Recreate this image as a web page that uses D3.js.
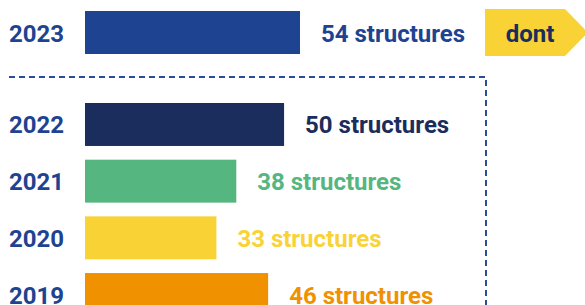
<!DOCTYPE html>
<html>
<head>
<meta charset="utf-8">
<style>
  body { margin: 0; background: #fff; }
  svg text { font-family: Roboto, sans-serif; font-weight: 700; }
</style>
</head>
<body>
<div id="chart"></div>
<script src="https://cdn.jsdelivr.net/npm/d3@7"></script>
<script>
// data
var years = ["2023", "2022", "2021", "2020", "2019"];
var counts = [54, 50, 38, 33, 46];
var colors = ["#1e4391", "#1a2d5c", "#55b67f", "#f9d335", "#f09100"];
var unit = "structures";
var tagText = "dont";

var width = 585, height = 305;

var svg = d3.select("#chart").append("svg")
  .attr("width", width).attr("height", height);

// x scale: zero at left of bars
var x = d3.scaleLinear().domain([0, 54]).range([85, 300]);

// first year sits alone on top, the rest below the dashed frame
var yTop = d3.scaleBand().domain([years[0]]).range([11, 54]);
var yRest = d3.scaleBand().domain(years.slice(1)).range([103, 316]).paddingInner(0.242).paddingOuter(0);

function yPos(yr) { return yr === years[0] ? yTop(yr) : yRest(yr); }
function bw(yr) { return yr === years[0] ? yTop.bandwidth() : yRest.bandwidth(); }

var rows = years.map(function (y, i) { return {year: y, n: counts[i], color: colors[i]}; });

// dashed frame
svg.append("path")
  .attr("d", "M9,77H486V305")
  .attr("fill", "none")
  .attr("stroke", "#2a4d9b")
  .attr("stroke-width", 2)
  .attr("stroke-dasharray", "6,4");

var g = svg.selectAll("g.row").data(rows).enter().append("g").attr("class", "row");

g.append("rect")
  .attr("x", x(0))
  .attr("y", function (d) { return yPos(d.year); })
  .attr("width", function (d) { return x(d.n) - x(0); })
  .attr("height", function (d) { return bw(d.year); })
  .attr("fill", function (d) { return d.color; });

g.append("text")
  .attr("x", 9)
  .attr("y", function (d) { return yPos(d.year) + bw(d.year) / 2 + 9; })
  .attr("font-size", 24)
  .attr("fill", "#1e4391")
  .text(function (d) { return d.year; });

g.append("text")
  .attr("x", function (d) { return x(d.n) + 21; })
  .attr("y", function (d) { return yPos(d.year) + bw(d.year) / 2 + 9; })
  .attr("font-size", 24)
  .attr("fill", function (d) { return d.color; })
  .text(function (d) { return d.n + " " + unit; });

// yellow tag next to the top bar
var ty = yTop(years[0]) - 2, th = 47;
svg.append("path")
  .attr("d", "M485," + ty + "H565L588," + (ty + th / 2) + "L565," + (ty + th) + "H485Z")
  .attr("fill", "#f9d335");
svg.append("text")
  .attr("x", 530).attr("y", ty + th / 2 + 9)
  .attr("text-anchor", "middle")
  .attr("font-size", 24)
  .attr("fill", "#1a2d5c")
  .text(tagText);
</script>
</body>
</html>
